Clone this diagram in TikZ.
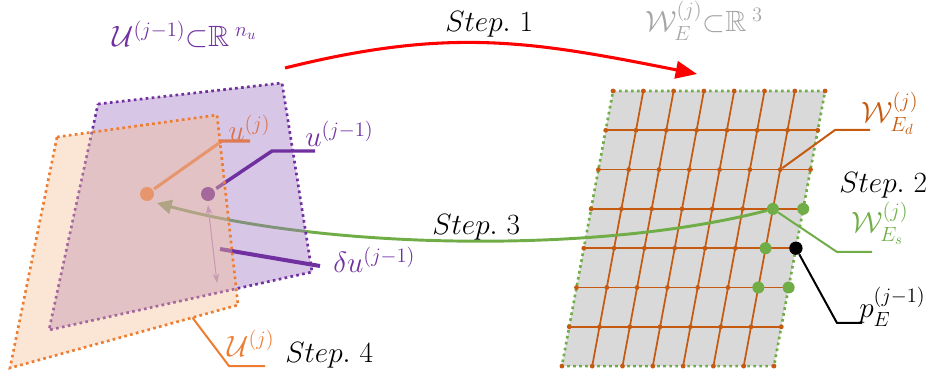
\documentclass[tikz,border=0pt]{standalone}
\usepackage{fix-cm}
\usepackage{amsmath,amssymb}
\usepackage{tikz}
\usetikzlibrary{positioning,arrows.meta}

\definecolor{upurple}{RGB}{112,48,160}
\definecolor{ufill}{RGB}{155,112,192}
\definecolor{uorange}{RGB}{237,125,49}
\definecolor{ofill}{RGB}{245,190,150}
\definecolor{udot}{RGB}{223,123,83}
\definecolor{ujtext}{RGB}{218,115,75}
\definecolor{wbrown}{RGB}{197,90,17}
\definecolor{wgreen}{RGB}{112,173,71}
\definecolor{wgray}{RGB}{217,217,217}
\definecolor{ltext}{RGB}{166,166,166}

\begin{document}
\begin{tikzpicture}[x=0.75pt,y=-0.75pt,
  every node/.style={inner sep=0pt,font=\fontsize{22}{26}\selectfont},
  quad/.style={dash pattern=on 2pt off 2.5pt,line width=2pt},
  gdot/.style={circle,fill=wbrown,minimum size=3.6pt},
  sdot/.style={circle,fill=wgreen,minimum size=9pt},
  lead/.style={line width=1.5pt}]
  \useasboundingbox (0,0) rectangle (938,377);

  % grid W_E
  \foreach \k in {0,...,7}
    \foreach \r in {0,...,7}
      \coordinate (g\k\r) at ({613+30.3*\k-7.3*\r},{91+39.3*\r});
  \fill[wgray] (g00) -- (g70) -- (g77) -- (g07) -- cycle;
  \foreach \i in {1,...,6} {
    \draw[wbrown,line width=1.3pt] (g\i0) -- (g\i7);
    \draw[wbrown,line width=1.3pt] (g0\i) -- (g7\i);
  }
  \draw[wgreen,quad] (g00) -- (g70) -- (g77) -- (g07) -- cycle;
  \foreach \k in {0,...,7}
    \foreach \r in {0,...,7}
      \node[gdot] (d\k\r) at (g\k\r) {};
  \node[sdot] (ws1) at (g63) {};
  \node[sdot] (ws2) at (g73) {};
  \node[sdot] (ws3) at (g64) {};
  \node[sdot] (ws4) at (g65) {};
  \node[sdot] (ws5) at (g75) {};
  \node[circle,fill=black,minimum size=10pt] (pe) at (g74) {};
  \node[anchor=base west,text=ltext] (wtitle) at (645,32)
    {$\mathcal{W}_E^{(j)}{\subset}\mathbb{R}^{\;3}$};

  % Step 1
  \coordinate (s1a) at (285,68);
  \coordinate (s1b) at (697,74);
  \draw[red,line width=2.3pt,-{Triangle[length=16pt,width=13pt]}]
    (s1a) .. controls (450,27) and (531,41) .. (s1b);
  \node[anchor=base west] (st1) at (445,32) {$Step.\ 1$};

  % Step 3
  \coordinate (s3b) at (157,203);
  \draw[wgreen,line width=2.2pt,-{Triangle[length=11pt,width=10.5pt]}]
    (ws1) .. controls (600,254) and (330,250) .. (s3b);
  \node[anchor=base west] (st3) at (432,235) {$Step.\ 3$};

  % U^(j-1)
  \draw[upurple,quad,fill=ufill,fill opacity=0.4]
    (98,104) -- (282,83) -- (312,272) -- (49,330) -- cycle;
  \node[anchor=base west,text=upurple] (utitle) at (112,47)
    {$\mathcal{U}^{(j-1)}{\subset}\mathbb{R}^{\;n_u}$};
  \node[circle,fill=upurple,minimum size=10.5pt] (ujm) at (208,194) {};
  \draw[upurple,line width=2.6pt,shorten <=2pt] (ujm) -- (272,151) -- (315,151);
  \node[anchor=base west,text=upurple] (ujml) at (305,147) {$u^{(j-1)}$};
  \node[circle,fill=udot,minimum size=10.5pt] (uj) at (147,194) {};
  \draw[udot,line width=2.3pt,shorten <=1pt] (uj) -- (222,141) -- (250,141);
  \node[anchor=base west,text=ujtext] (ujl) at (228,141) {$u^{(j)}$};
  \coordinate (da) at (208,205);
  \coordinate (db) at (217,283);
  \draw[upurple!60,line width=0.8pt,
    {Stealth[length=7pt,width=5pt]}-{Stealth[length=7pt,width=5pt]}] (da) -- (db);
  \coordinate (du) at (220,249);
  \draw[upurple,line width=3pt] (du) -- (320,266);
  \node[anchor=base west,text=upurple] (dul) at (333,273) {$\delta u^{(j-1)}$};

  % U^(j)
  \draw[uorange,quad,fill=ofill,fill opacity=0.4]
    (57,137) -- (217,115) -- (238,305) coordinate (uo3) -- (10,368) coordinate (uo4) -- cycle;
  \path (uo3) -- (uo4) coordinate[pos=0.2] (uol);
  \draw[uorange,lead] (uol) -- (229,366) -- (265,366);
  \node[anchor=base west,text=uorange] (ujset) at (227,356) {$\mathcal{U}^{(j)}$};
  \node[anchor=base west] (st4) at (285,363) {$Step.\ 4$};

  % labels of the grid
  \draw[wbrown,lead,shorten <=2pt] (g62) -- (835,130) -- (870,130);
  \node[anchor=base west,text=wbrown] (wed) at (861,123) {$\mathcal{W}_{E_d}^{(j)}$};
  \node[anchor=base west] (st2) at (839,193) {$Step.\ 2$};
  \draw[wgreen,lead] (ws1) -- (837,252) -- (872,252);
  \node[anchor=base west,text=wgreen] (wes) at (851,233) {$\mathcal{W}_{E_s}^{(j)}$};
  \draw[black,lead] (pe) -- (837,323) -- (862,323);
  \node[anchor=base west] (pel) at (859,318) {$p_E^{(j-1)}$};
\end{tikzpicture}
\end{document}
